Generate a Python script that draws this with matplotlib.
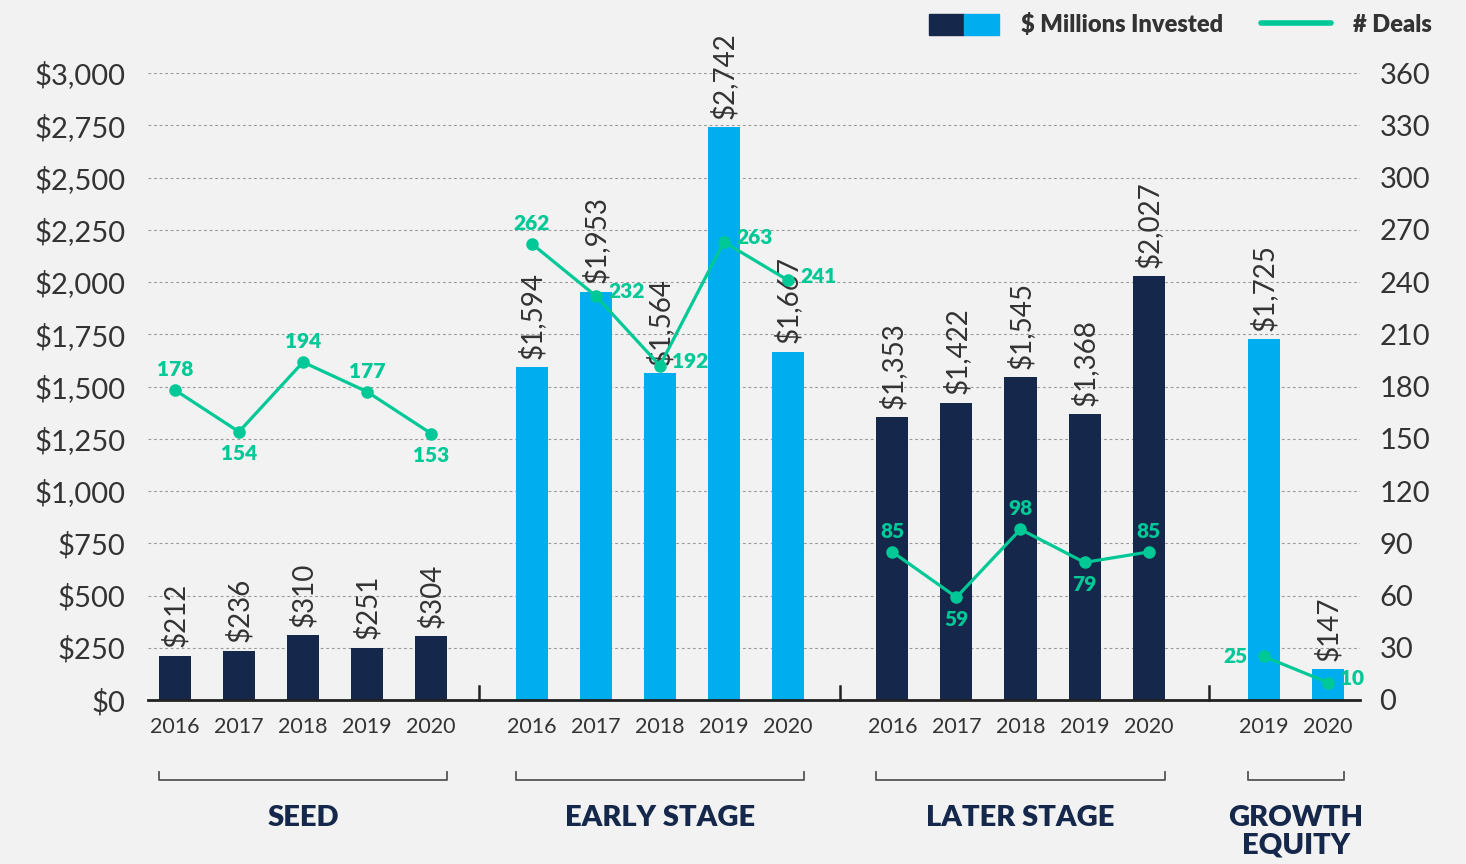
import matplotlib.pyplot as plt
import matplotlib.transforms as mtransforms
from matplotlib.patches import Patch
from matplotlib.lines import Line2D
from matplotlib.legend_handler import HandlerTuple

plt.rcParams['font.family'] = ['Lato', 'DejaVu Sans']

NAVY = '#15284b'
BLUE = '#00aeef'
GREEN = '#00c896'
TEXT = '#333333'
BG = '#f1f2f1'

# data
GROUPS = ['SEED', 'EARLY STAGE', 'LATER STAGE', 'GROWTH\nEQUITY']
YEARS = [
    [2016, 2017, 2018, 2019, 2020],
    [2016, 2017, 2018, 2019, 2020],
    [2016, 2017, 2018, 2019, 2020],
    [2019, 2020],
]
INVESTED = [
    [212, 236, 310, 251, 304],
    [1594, 1953, 1564, 2742, 1667],
    [1353, 1422, 1545, 1368, 2027],
    [1725, 147],
]
DEALS = [
    [178, 154, 194, 177, 153],
    [262, 232, 192, 263, 241],
    [85, 59, 98, 79, 85],
    [25, 10],
]

# layout / style
GROUP_COLORS = [NAVY, BLUE, NAVY, BLUE]
GROUP_START = [0, 5.57, 11.2, 17.0]
SEPARATORS = [4.75, 10.39, 16.14]
BAR_W = 0.5
DEAL_LABEL_POS = [
    ['up', 'down', 'up', 'up', 'down'],
    ['up', 'right', 'right', 'right', 'right'],
    ['up', 'down', 'up', 'down', 'up'],
    ['left', 'right'],
]
OFFSETS = {
    'up': ((0, 8), 'center', 'bottom'),
    'down': ((0, -9), 'center', 'top'),
    'right': ((9, 3), 'left', 'center'),
    'left': ((-12, 0), 'right', 'center'),
}


def main():
    fig = plt.figure(figsize=(14.66, 8.64), dpi=100, facecolor=BG)
    ax = fig.add_axes([148 / 1466, 1 - 700 / 864, 1212 / 1466, 627 / 864])
    ax.set_facecolor(BG)
    ax2 = ax.twinx()

    ax.set_ylim(0, 3000)
    ax2.set_ylim(0, 360)
    ax.set_xlim(-0.42, 18.5)

    ax.set_yticks(range(0, 3001, 250))
    ax.set_yticklabels(['${:,}'.format(v) for v in range(0, 3001, 250)])
    ax2.set_yticks(range(0, 361, 30))
    ax.tick_params(axis='y', length=0, pad=16, labelsize=21, labelcolor=TEXT)
    ax2.tick_params(axis='y', length=0, pad=14, labelsize=21, labelcolor=TEXT)
    ax.grid(axis='y', color='#9a9a9a', linestyle=(0, (2.5, 2.5)), linewidth=0.8)
    ax.set_axisbelow(True)

    for a in (ax, ax2):
        for s in ('top', 'left', 'right', 'bottom'):
            a.spines[s].set_visible(False)
    ax.spines['bottom'].set_visible(True)
    ax.spines['bottom'].set_color('#222222')
    ax.spines['bottom'].set_linewidth(2)

    trans = mtransforms.blended_transform_factory(ax.transData, ax.transAxes)

    xticks, xlabels = [], []
    for g, name in enumerate(GROUPS):
        xs = [GROUP_START[g] + i for i in range(len(YEARS[g]))]
        xticks += xs
        xlabels += [str(y) for y in YEARS[g]]

        ax.bar(xs, INVESTED[g], width=BAR_W, color=GROUP_COLORS[g], zorder=2)
        for x, v in zip(xs, INVESTED[g]):
            ax.annotate('${:,}'.format(v), (x, v), xytext=(0, 6),
                        textcoords='offset points', rotation=90,
                        ha='center', va='bottom', fontsize=20, color=TEXT)

        ax2.plot(xs, DEALS[g], color=GREEN, linewidth=2.3, marker='o',
                 markersize=8, zorder=3)
        for x, v, p in zip(xs, DEALS[g], DEAL_LABEL_POS[g]):
            off, ha, va = OFFSETS[p]
            ax2.annotate(str(v), (x, v), xytext=off, textcoords='offset points',
                         ha=ha, va=va, fontsize=15, fontweight='heavy', color=GREEN)

        # bracket under the years
        x0 = xs[0] - BAR_W / 2
        x1 = xs[-1] + BAR_W / 2
        ax.plot([x0, x0, x1, x1], [-0.115, -0.128, -0.128, -0.115],
                transform=trans, color='#555555', linewidth=1.3, clip_on=False)
        ax.text((x0 + x1) / 2, -0.168, name, transform=trans, ha='center',
                va='top', fontsize=21, fontweight='heavy', color=NAVY,
                linespacing=1.05)

    for sx in SEPARATORS:
        ax.plot([sx, sx], [0, 0.022], transform=trans, color='#222222',
                linewidth=1.8, clip_on=False)

    ax.set_xticks(xticks)
    ax.set_xticklabels(xlabels)
    ax.tick_params(axis='x', length=0, pad=12, labelsize=15.5, labelcolor=TEXT)

    handles = [(Patch(color=NAVY), Patch(color=BLUE)),
               Line2D([], [], color=GREEN, linewidth=4, solid_capstyle='round')]
    leg = fig.legend(handles, ['$ Millions Invested', '# Deals'],
                     handler_map={tuple: HandlerTuple(ndivide=None, pad=0)},
                     loc='upper right', bbox_to_anchor=(0.991, 1.009), ncol=2,
                     frameon=False, handlelength=3.0, handleheight=1.0,
                     columnspacing=1.6, handletextpad=0.9,
                     prop={'size': 17, 'weight': 'heavy'})
    for t in leg.get_texts():
        t.set_color(TEXT)

    fig.savefig('out.png', dpi=100, facecolor=BG)
    plt.close('all')


if __name__ == '__main__':
    main()
